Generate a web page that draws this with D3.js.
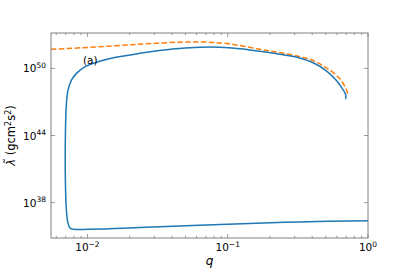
<!DOCTYPE html>
<html><head><meta charset="utf-8">
<script src="https://cdn.jsdelivr.net/npm/d3@7"></script>
<style>
body{margin:0;background:#fff;}
svg{display:block;font-family:"DejaVu Sans",sans-serif;}
</style></head>
<body><svg id="chart" width="409" height="273"></svg>
<script>
// blue solid branch: lower part from q=1 leftwards, up the steep wall, then along the top
const blueQ=[1.0,0.326,0.1,0.0236,0.01565,0.0100,0.00875,0.0080,0.00755,0.007273,0.007085,0.00697,0.00697,0.007085,0.007273,0.007691,0.008348,0.009567,0.0119,0.01565,0.0236,0.0405,0.0631,0.0877,0.1218,0.169,0.2348,0.326,0.4036,0.5053,0.5954,0.6635,0.6934,0.6934];
const blueL=[36.39,36.28,36.06,35.77,35.68,35.62,35.60,35.62,35.70,36.15,37.31,39.73,44.21,46.89,48.06,48.95,49.55,50.14,50.59,50.97,51.34,51.73,51.88,51.89,51.76,51.53,51.26,50.93,50.52,49.78,48.91,48.10,47.64,47.25];
// orange dashed
const orangeQ=[0.0055,0.0104,0.0236,0.0455,0.0704,0.1033,0.169,0.2348,0.326,0.4036,0.5053,0.6286,0.7083,0.7161];
const orangeL=[51.70,51.88,52.16,52.34,52.35,52.18,51.71,51.41,51.05,50.72,50.04,49.09,47.99,47.74];
const xMajor=[0.01,0.1,1];
const xLabels=['\u22122','\u22121','0'];
const yMajorExp=[38,44,50];

const W=409,H=273,m={l:51,r:41,t:33,b:35};
const svg=d3.select('#chart');
const x=d3.scaleLog().domain([0.0055,1]).range([m.l,W-m.r]);
const y=d3.scaleLinear().domain([34.84,53.16]).range([H-m.b,m.t]);
const grey='#808080';
const x0=m.l,x1=W-m.r,y0=H-m.b,y1=m.t;

// minor x ticks
const minor=[];
[0.001,0.01,0.1].forEach(d=>{for(let k=2;k<10;k++){const v=d*k;if(v>=0.0055&&v<=1)minor.push(v);}});
const gT=svg.append('g').attr('stroke',grey).attr('stroke-width',0.8);
minor.forEach(v=>{const px=x(v);
  gT.append('line').attr('x1',px).attr('x2',px).attr('y1',y0).attr('y2',y0-2.2);
  gT.append('line').attr('x1',px).attr('x2',px).attr('y1',y1).attr('y2',y1+2.2);});
xMajor.forEach(v=>{const px=x(v);
  gT.append('line').attr('x1',px).attr('x2',px).attr('y1',y0).attr('y2',y0-4);
  gT.append('line').attr('x1',px).attr('x2',px).attr('y1',y1).attr('y2',y1+4);});
yMajorExp.forEach(e=>{const py=y(e);
  gT.append('line').attr('x1',x0).attr('x2',x0+4).attr('y1',py).attr('y2',py);
  gT.append('line').attr('x1',x1).attr('x2',x1-4).attr('y1',py).attr('y2',py);});

// curves
const lineC=d3.line().x(d=>x(d[0])).y(d=>y(d[1])).curve(d3.curveCatmullRom.alpha(0.5));
svg.append('clipPath').attr('id','pc').append('rect').attr('x',x0).attr('y',y1).attr('width',x1-x0).attr('height',y0-y1);
const gP=svg.append('g').attr('clip-path','url(#pc)');
gP.append('path').datum(orangeQ.map((q,i)=>[q,orangeL[i]])).attr('d',lineC)
  .attr('fill','none').attr('stroke','#ff7f0e').attr('stroke-width',1.5).attr('stroke-dasharray','5.5,2.4');
gP.append('path').datum(blueQ.map((q,i)=>[q,blueL[i]])).attr('d',lineC)
  .attr('fill','none').attr('stroke','#1f77b4').attr('stroke-width',1.5);

// frame
svg.append('rect').attr('x',x0).attr('y',y1).attr('width',x1-x0).attr('height',y0-y1)
  .attr('fill','none').attr('stroke',grey).attr('stroke-width',1);

// tick labels
xMajor.forEach((v,i)=>{
  const t=svg.append('text').attr('x',x(v)).attr('y',y0+13).attr('text-anchor','middle').attr('font-size',10.5).attr('fill','#000');
  t.append('tspan').text('10');
  t.append('tspan').attr('dy',-4.5).attr('font-size',7.5).text(xLabels[i]);
});
yMajorExp.forEach(e=>{
  const t=svg.append('text').attr('x',x0-5).attr('y',y(e)+4).attr('text-anchor','end').attr('font-size',10.5).attr('fill','#000');
  t.append('tspan').text('10');
  t.append('tspan').attr('dy',-4.5).attr('font-size',7.5).text(e);
});

// axis labels
svg.append('text').attr('x',(x0+x1)/2).attr('y',H-8).attr('text-anchor','middle')
  .attr('font-size',12).attr('font-style','italic').text('q');
const yl=svg.append('text').attr('transform',`translate(15,${(y0+y1)/2}) rotate(-90)`)
  .attr('text-anchor','middle').attr('font-size',11.5);
yl.append('tspan').attr('font-style','italic').text('\u03BB\u0303');
yl.append('tspan').text(' (gcm');
yl.append('tspan').attr('dy',-4.5).attr('font-size',8).text('2');
yl.append('tspan').attr('dy',4.5).text('s');
yl.append('tspan').attr('dy',-4.5).attr('font-size',8).text('2');
yl.append('tspan').attr('dy',4.5).text(')');

svg.append('text').attr('x',83).attr('y',64).attr('font-size',10.5).text('(a)');
</script></body></html>
